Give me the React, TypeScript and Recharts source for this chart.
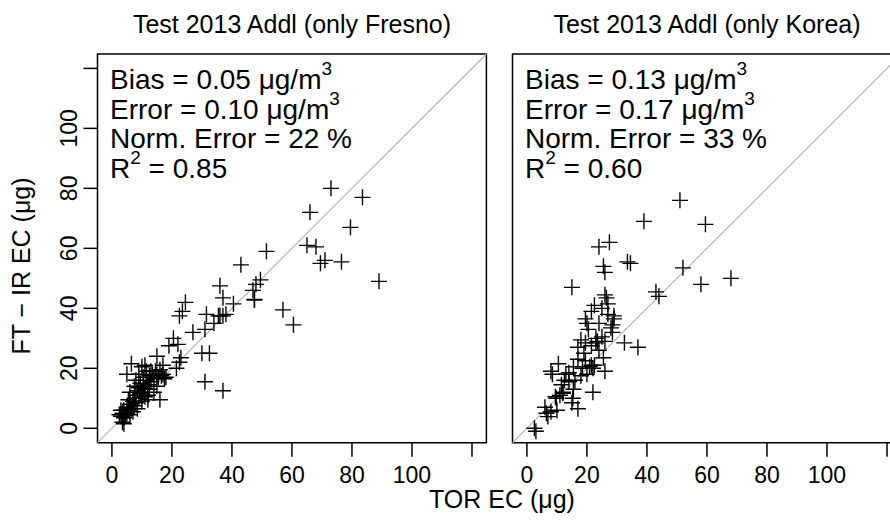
import { ReferenceArea, ReferenceLine, Scatter, ScatterChart, XAxis, YAxis } from "recharts"

const FONT = '"Liberation Sans", Arial, Helvetica, sans-serif'

// axis ticks shared by both panels
const axisTicks = [0, 20, 40, 60, 80, 100, 120]
const axisDomain: [number, number] = [-4.8, 124.8]

// Fresno: TOR EC vs FT-IR EC (ug)
const fresnoTor = [
  73, 83.5, 66, 79.5, 65, 68, 71, 69.5, 76.5, 89, 51.5, 43, 49.5, 48, 47, 47.5,
  36, 37, 24.5, 23.5, 22.5, 40.5, 38, 35.5, 34, 31.5, 31, 27, 57, 60.5, 19, 20.5,
  22, 23, 22.5, 30, 32.5, 31, 37, 15, 17, 6.5, 5, 16, 36, 37, 47.5,
  3, 3.5, 4, 4, 4.5, 5, 5, 5.5, 6, 6, 6.5, 7, 7, 7.5, 7.5, 8, 8, 8.5, 8.5, 9, 9,
  9.5, 9.5, 10, 10, 10.5, 10.5, 11, 11, 11.5, 11.5, 12, 12, 12.5, 12.5, 13, 13,
  13.5, 14, 14, 14.5, 15, 15, 15.5, 16, 16.5, 17, 17.5, 10, 11, 7.5, 6, 8, 9, 12,
  3, 2.5, 5.5, 3.5, 4, 18, 21.5,
]
const fresnoFtir = [
  80, 77, 72, 67, 61, 60.5, 56, 55, 55.5, 49, 59, 54.5, 49.5, 48, 46, 43,
  47.5, 43.5, 42, 39, 37.5, 41.5, 38, 37.5, 35, 38, 33, 32, 39.5, 34.5, 27.5, 30,
  28, 23.5, 22, 25, 25, 15.5, 12.5, 24, 21, 21.5, 18, 9.5, 37.5, 37.5, 42.8,
  4, 5, 3.5, 6, 4.5, 5, 7, 6, 4.5, 8, 6.5, 9, 5.5, 10, 7.5, 11, 8.5, 12.5, 6.5,
  10, 13.5, 11.5, 15, 12, 9, 14, 17, 13, 10.5, 16, 19, 14.5, 11, 17.5, 13, 15.5,
  19, 18, 16.5, 12, 19, 18, 14, 17, 19.5, 17.5, 18, 16.5, 20.5, 21, 14, 12, 16,
  18, 9.5, 6, 4.5, 9.5, 2, 1.5, 17, 20,
]

// Korea: TOR EC vs FT-IR EC (ug)
const koreaTor = [
  51, 39, 59.5, 27.5, 24, 33.5, 34.5, 25.5, 26, 15, 26, 26.5, 52, 58, 68, 43, 44,
  22.5, 21.5, 19.5, 20, 27, 29, 28, 28.5, 25, 23, 21.5, 19.5, 17, 32.5, 37,
  25.5, 26, 21.5, 19.5, 18.5, 15.5, 14, 10.5, 8, 8.5, 12.5, 11.5, 14, 15.5, 9.5,
  6, 6.5, 8, 10, 15, 17, 22, 2.5, 3, 19, 23, 24, 20.5, 17, 13, 16, 11, 12, 18,
  20, 22, 24, 26, 29, 25, 27, 18, 23.5, 28.5, 22.5, 7, 9.8, 12, 15.3, 20.9,
]
const koreaFtir = [
  76, 69, 68, 62, 60.5, 55.5, 55, 54, 52, 47, 44.5, 43.5, 53.5, 48, 50, 45.5, 44,
  41, 39, 36.5, 35, 38, 36.5, 33.5, 32, 30.5, 28.5, 27.5, 28.5, 27, 28.5, 27,
  23.5, 19, 21, 22.5, 20, 20.5, 18.5, 21.5, 19, 18, 16, 14.5, 15.5, 13, 10.5,
  7, 5, 5.5, 6, 8.5, 6.5, 12, 0, -1, 25, 30, 35, 33, 23, 18, 16, 11, 12, 17.5,
  18, 20, 26, 29, 37.5, 40, 41.5, 29.5, 29, 34.5, 21, 3.9, 10, 11.7, 10, 20.5,
]

const fresnoStats = ["0.05", "0.10", "22", "0.85"]
const koreaStats = ["0.13", "0.17", "33", "0.60"]

const toPoints = (xs: number[], ys: number[]) => xs.map((x, i) => ({ x, y: ys[i] }))

const Plus = (props: any) => {
  const { cx, cy } = props
  if (cx == null || cy == null) return null
  return (
    <path
      d={`M${cx - 8},${cy}h16M${cx},${cy - 8}v16`}
      stroke="#000"
      strokeWidth={1.4}
      fill="none"
    />
  )
}

const XTick = (props: any) => {
  const { x, y, payload } = props
  if (payload.value === 120) return null
  return (
    <text x={x} y={y + 24} textAnchor="middle" fontSize={23} fontFamily={FONT} fill="#000">
      {payload.value}
    </text>
  )
}

const YTick = (props: any) => {
  const { x, y, payload } = props
  if (payload.value === 120) return null
  const tx = x - 4
  return (
    <text
      x={tx}
      y={y}
      transform={`rotate(-90 ${tx} ${y})`}
      textAnchor="middle"
      fontSize={23}
      fontFamily={FONT}
      fill="#000"
    >
      {payload.value}
    </text>
  )
}

function Panel({
  left,
  data,
  showYLabels,
}: {
  left: number
  data: { x: number; y: number }[]
  showYLabels: boolean
}) {
  return (
    <div style={{ position: "absolute", left, top: 0 }}>
      <ScatterChart width={500} height={521} margin={{ top: 54, right: 13.6, bottom: 18.3, left: 0 }}>
        <XAxis
          type="number"
          dataKey="x"
          domain={axisDomain}
          ticks={axisTicks}
          interval={0}
          allowDataOverflow
          height={60}
          tickSize={14}
          axisLine={false}
          tickLine={{ stroke: "#000", strokeWidth: 1.5 }}
          tick={<XTick />}
        />
        <YAxis
          type="number"
          dataKey="y"
          domain={axisDomain}
          ticks={axisTicks}
          interval={0}
          allowDataOverflow
          width={97.5}
          tickSize={14}
          axisLine={false}
          tickLine={{ stroke: "#000", strokeWidth: 1.5 }}
          tick={showYLabels ? <YTick /> : false}
        />
        <ReferenceLine
          segment={[
            { x: axisDomain[0], y: axisDomain[0] },
            { x: axisDomain[1], y: axisDomain[1] },
          ]}
          stroke="#b5b5b5"
          strokeWidth={1.2}
        />
        <ReferenceArea
          x1={axisDomain[0]}
          x2={axisDomain[1]}
          y1={axisDomain[0]}
          y2={axisDomain[1]}
          fill="none"
          stroke="#000"
          strokeWidth={1.5}
        />
        <Scatter data={data} shape={<Plus />} isAnimationActive={false} />
      </ScatterChart>
    </div>
  )
}

function Stats({ x, vals }: { x: number; vals: string[] }) {
  const sup = { dy: -14, fontSize: 19 }
  const common = { x, fontSize: 28, fontFamily: FONT, fill: "#000" }
  return (
    <g>
      <text {...common} y={89.3}>
        {`Bias = ${vals[0]} μg/m`}
        <tspan {...sup}>3</tspan>
      </text>
      <text {...common} y={119.3}>
        {`Error = ${vals[1]} μg/m`}
        <tspan {...sup}>3</tspan>
      </text>
      <text {...common} y={148.3}>
        {`Norm. Error = ${vals[2]} %`}
      </text>
      <text {...common} y={178.3}>
        R<tspan {...sup}>2</tspan>
        <tspan dy={14}>{` = ${vals[3]}`}</tspan>
      </text>
    </g>
  )
}

export default function App() {
  return (
    <div
      style={{
        position: "fixed",
        left: 0,
        top: 0,
        width: 890,
        height: 521,
        overflow: "hidden",
        background: "#fff",
      }}
    >
      <Panel left={0} data={toPoints(fresnoTor, fresnoFtir)} showYLabels />
      <Panel left={415.2} data={toPoints(koreaTor, koreaFtir)} showYLabels={false} />
      <svg
        width={890}
        height={521}
        style={{ position: "absolute", left: 0, top: 0, pointerEvents: "none" }}
      >
        <g fontFamily={FONT} fill="#000">
          <text x={292} y={33} textAnchor="middle" fontSize={25}>
            Test 2013 Addl (only Fresno)
          </text>
          <text x={707} y={33} textAnchor="middle" fontSize={25}>
            Test 2013 Addl (only Korea)
          </text>
          <text x={502} y={508} textAnchor="middle" fontSize={25}>
            TOR EC (μg)
          </text>
          <text x={30} y={266} transform="rotate(-90 30 266)" textAnchor="middle" fontSize={25}>
            FT − IR EC (μg)
          </text>
        </g>
        <Stats x={110} vals={fresnoStats} />
        <Stats x={525} vals={koreaStats} />
      </svg>
    </div>
  )
}
